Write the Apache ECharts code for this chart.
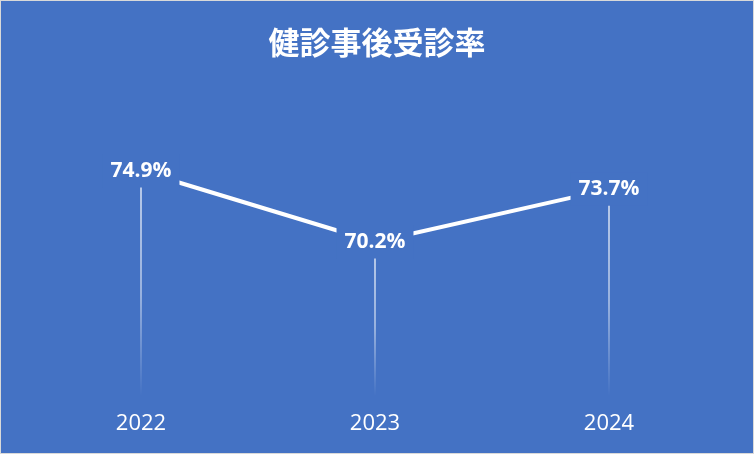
<!DOCTYPE html>
<html>
<head>
<meta charset="utf-8">
<script src="https://cdn.jsdelivr.net/npm/echarts@6/dist/echarts.min.js"></script>
<style>
  html, body { margin: 0; padding: 0; background: #d9d9d9; }
  #main { position: absolute; left: 1px; top: 1px; width: 752px; height: 452px; }
</style>
</head>
<body>
<div id="main"></div>
<script>
var years = ['2022', '2023', '2024'];
var rates = [74.9, 70.2, 73.7];

var dom = document.getElementById('main');
var myChart = echarts.init(dom, null, { renderer: 'canvas' });

var option = {
  backgroundColor: '#4472C4',
  title: {
    text: '健診事後受診率',
    left: 'center',
    top: 21,
    textStyle: {
      color: '#ffffff',
      fontSize: 31,
      fontWeight: 'bold',
      fontFamily: 'Noto Sans CJK JP'
    }
  },
  grid: { left: 23, right: 27, top: 93, bottom: 57 },
  xAxis: {
    type: 'category',
    data: years,
    axisLine: { show: false },
    axisTick: { show: false },
    axisLabel: {
      color: '#ffffff',
      fontSize: 22,
      fontFamily: 'Open Sans',
      margin: 17
    }
  },
  yAxis: {
    type: 'value',
    min: 60,
    max: 80,
    show: false,
    splitLine: { show: false }
  },
  series: [
    {
      // drop lines
      type: 'bar',
      data: rates,
      barWidth: 1.5,
      silent: true,
      z: 1,
      itemStyle: {
        color: new echarts.graphic.LinearGradient(0, 0, 0, 1, [
          { offset: 0, color: 'rgba(255,255,255,0.85)' },
          { offset: 0.55, color: 'rgba(255,255,255,0.6)' },
          { offset: 1, color: 'rgba(255,255,255,0)' }
        ])
      }
    },
    {
      type: 'line',
      data: rates,
      z: 3,
      symbol: 'circle',
      symbolSize: 1,
      itemStyle: { color: '#ffffff' },
      lineStyle: { color: '#ffffff', width: 4 },
      label: {
        show: true,
        position: 'inside',
        formatter: function (p) { return p.value.toFixed(1) + '%'; },
        color: '#ffffff',
        fontSize: 21,
        fontWeight: 'bold',
        fontFamily: 'Open Sans',
        backgroundColor: '#4472C4',
        padding: [6, 8, 6, 8]
      }
    }
  ]
};

myChart.setOption(option);
window.addEventListener('resize', myChart.resize);
</script>
</body>
</html>
